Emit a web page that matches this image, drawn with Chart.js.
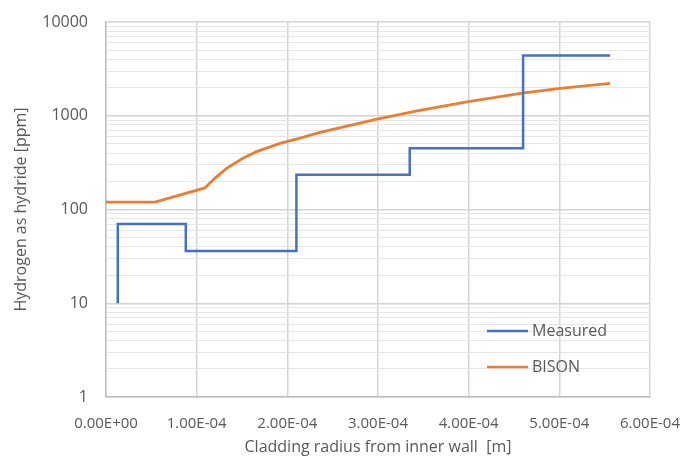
<!DOCTYPE html>
<html>
<head>
<meta charset="utf-8">
<script src="https://cdn.jsdelivr.net/npm/chart.js@4/dist/chart.umd.min.js"></script>
<style>
  html, body { margin: 0; padding: 0; background: #ffffff; }
  canvas { display: block; }
</style>
</head>
<body>
<canvas id="chart" width="684" height="462"></canvas>
<script>
// Measured hydride profile (step corners) and BISON prediction
const measuredX = [1.3e-5, 1.3e-5, 8.8e-5, 8.8e-5, 2.1e-4, 2.1e-4, 3.35e-4, 3.35e-4, 4.6e-4, 4.6e-4, 5.56e-4];
const measuredY = [10, 70, 70, 36, 36, 235, 235, 450, 450, 4400, 4400];

const bisonX = [0, 5.4e-5, 1.09e-4, 1.2e-4, 1.33e-4, 1.51e-4, 1.66e-4, 1.92e-4, 2.14e-4, 2.36e-4, 2.99e-4, 3.43e-4, 3.98e-4, 4.59e-4, 5.01e-4, 5.56e-4];
const bisonY = [120, 120, 170, 215, 275, 352, 414, 508, 578, 665, 920, 1130, 1410, 1740, 1960, 2220];

const xTickValues = [0, 1e-4, 2e-4, 3e-4, 4e-4, 5e-4, 6e-4];
const xTickLabels = ['0.00E+00', '1.00E-04', '2.00E-04', '3.00E-04', '4.00E-04', '5.00E-04', '6.00E-04'];
const yDecades = [1, 10, 100, 1000, 10000];
const yDecadeLabels = ['1', '10', '100', '1000', '10000'];

const seriesNames = ['Measured', 'BISON'];
const seriesColors = ['#4472C4', '#ED7D31'];

const FONT = "'Open Sans', sans-serif";
const TEXT = '#595959';

// 1..9 within every decade, for the minor grid
const yTickValues = [];
yDecades.forEach((d, i) => {
  if (i === yDecades.length - 1) { yTickValues.push(d); return; }
  for (let m = 1; m < 10; m++) yTickValues.push(d * m);
});

const isDecade = v => yDecades.some(d => Math.abs(v - d) < 1e-9 * d);

const toPoints = (xs, ys) => xs.map((x, i) => ({ x, y: ys[i] }));

// legend drawn inside the plot, lower right
const innerLegend = {
  id: 'innerLegend',
  afterDraw(chart) {
    const ctx = chart.ctx;
    const area = chart.chartArea;
    ctx.save();
    ctx.font = '16px ' + FONT;
    ctx.textBaseline = 'middle';
    chart.data.datasets.forEach((ds, i) => {
      const y = area.bottom - 66 + i * 36;
      const x0 = area.right - 163;
      ctx.strokeStyle = ds.borderColor;
      ctx.lineWidth = 2.5;
      ctx.beginPath();
      ctx.moveTo(x0, y);
      ctx.lineTo(x0 + 41, y);
      ctx.stroke();
      ctx.fillStyle = TEXT;
      ctx.fillText(ds.label, x0 + 45, y);
    });
    ctx.restore();
  }
};

new Chart(document.getElementById('chart'), {
  type: 'line',
  data: {
    datasets: [
      {
        label: seriesNames[0],
        data: toPoints(measuredX, measuredY),
        borderColor: seriesColors[0],
        borderWidth: 2.5,
        pointRadius: 0,
        tension: 0,
        fill: false
      },
      {
        label: seriesNames[1],
        data: toPoints(bisonX, bisonY),
        borderColor: seriesColors[1],
        borderWidth: 2.8,
        pointRadius: 0,
        tension: 0,
        fill: false
      }
    ]
  },
  options: {
    responsive: false,
    animation: false,
    layout: { padding: { top: 22, right: 34, bottom: 0, left: 0 } },
    plugins: {
      legend: { display: false },
      tooltip: { enabled: false }
    },
    scales: {
      x: {
        type: 'linear',
        min: 0,
        max: 6e-4,
        afterBuildTicks: s => { s.ticks = xTickValues.map(v => ({ value: v })); },
        afterFit: s => { s.height = 65; s.paddingLeft = 0; s.paddingRight = 0; },
        ticks: {
          autoSkip: false,
          maxRotation: 0,
          padding: 18,
          color: TEXT,
          font: { family: FONT, size: 15 },
          callback: (v, i) => xTickLabels[i]
        },
        grid: { color: '#d4d4d4', lineWidth: 1.5, drawTicks: false },
        border: { color: '#bfbfbf', width: 1.5 },
        title: {
          display: true,
          text: 'Cladding radius from inner wall  [m]',
          color: TEXT,
          font: { family: FONT, size: 16 },
          padding: { top: 0, bottom: 5 }
        }
      },
      y: {
        type: 'logarithmic',
        min: 1,
        max: 10000,
        afterBuildTicks: s => { s.ticks = yTickValues.map(v => ({ value: v })); },
        afterFit: s => { s.width = 106; s.paddingTop = 0; s.paddingBottom = 0; },
        ticks: {
          autoSkip: false,
          padding: 18,
          color: TEXT,
          font: { family: FONT, size: 16 },
          callback: v => {
            const k = yDecades.findIndex(d => Math.abs(v - d) < 1e-9 * d);
            return k >= 0 ? yDecadeLabels[k] : '';
          }
        },
        grid: {
          drawTicks: false,
          color: c => isDecade(c.tick.value) ? '#d4d4d4' : '#e6e6e6',
          lineWidth: c => isDecade(c.tick.value) ? 1.5 : 1
        },
        border: { color: '#bfbfbf', width: 1.5 },
        title: {
          display: true,
          text: 'Hydrogen as hydride [ppm]',
          color: TEXT,
          font: { family: FONT, size: 16 },
          padding: { top: 12, bottom: 0 }
        }
      }
    }
  },
  plugins: [innerLegend]
});
</script>
</body>
</html>
